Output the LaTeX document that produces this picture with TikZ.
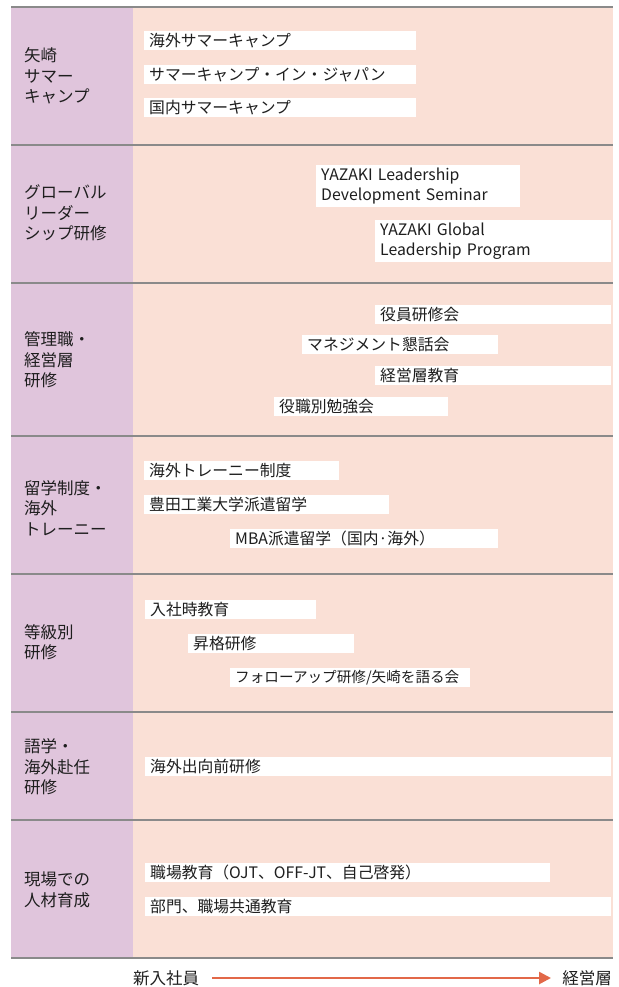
\documentclass[tikz,border=0pt]{standalone}
\usepackage{fontspec}
\setmainfont{Noto Sans CJK JP}
\usetikzlibrary{arrows.meta}
\definecolor{mauve}{RGB}{224,197,220}
\definecolor{salmon}{RGB}{250,224,214}
\definecolor{sepline}{RGB}{138,138,138}
\definecolor{arrowc}{RGB}{226,104,72}
\definecolor{ink}{RGB}{30,30,30}
\begin{document}
\begin{tikzpicture}[x=1pt,y=-1pt,
  item/.style={anchor=north west, fill=white, inner xsep=5pt, inner ysep=0pt,
    minimum height=19pt, align=left, text=ink,
    font=\fontsize{15.8}{20}\selectfont},
  tightitem/.style={item, font=\fontsize{14.6}{20}\selectfont},
  cat/.style={anchor=west, inner sep=0pt, align=left, text=ink,
    font=\fontsize{16.5}{20.5}\selectfont},
  sep/.style={draw=sepline, line width=1.6pt},
  lbl/.style={inner sep=0pt, text=ink, font=\fontsize{16.5}{18}\selectfont}]
\useasboundingbox (0,0) rectangle (618,987);
\fill[white] (0,0) rectangle (618,987);
% bands
\fill[mauve] (11,7) rectangle (133,958);
\fill[salmon] (133,7) rectangle (613,958);
\foreach \y in {7,145,283,436,574,712,820,958}{
  \draw[sep] (11,\y) -- (613,\y);
}
% category labels
\node[cat] (c1) at (24,76) {矢崎\\サマー\\キャンプ};
\node[cat] (c2) at (24,213) {グローバル\\リーダー\\シップ研修};
\node[cat] (c3) at (24,360) {管理職・\\経営層\\研修};
\node[cat] (c4) at (24,508) {留学制度・\\海外\\トレーニー};
\node[cat] (c5) at (24,642) {等級別\\研修};
\node[cat] (c6) at (24,767) {語学・\\海外赴任\\研修};
\node[cat] (c7) at (24,890) {現場での\\人材育成};
% row 1
\node[item, text width=262pt] (r1a) at (144,31) {海外サマーキャンプ};
\node[item, text width=262pt] (r1b) at (144,65) {サマーキャンプ・イン・ジャパン};
\node[item, text width=262pt] (r1c) at (144,98) {国内サマーキャンプ};
% row 2
\node[item, text width=194pt, minimum height=42pt] (r2a) at (316,165) {YAZAKI Leadership\\Development Seminar};
\node[item, text width=226pt, minimum height=42pt] (r2b) at (375,220) {YAZAKI Global\\Leadership Program};
% row 3
\node[item, text width=226pt] (r3a) at (375,305) {役員研修会};
\node[item, text width=186pt] (r3b) at (302,335) {マネジメント懇話会};
\node[item, text width=226pt] (r3c) at (375,366) {経営層教育};
\node[item, text width=164pt] (r3d) at (274,397) {役職別勉強会};
% row 4
\node[item, text width=185pt] (r4a) at (144,461) {海外トレーニー制度};
\node[item, text width=235pt] (r4b) at (144,495) {豊田工業大学派遣留学};
\node[item, text width=258pt] (r4c) at (230,529) {MBA派遣留学（国内·海外）};
% row 5
\node[item, text width=161pt] (r5a) at (145,600) {入社時教育};
\node[item, text width=156pt] (r5b) at (188,634) {昇格研修};
\node[tightitem, text width=230pt] (r5c) at (230,668) {\mbox{フォローアップ研修/矢崎を語る会}};
% row 6
\node[item, text width=456pt] (r6a) at (145,757) {海外出向前研修};
% row 7
\node[item, text width=395pt] (r7a) at (145,863) {職場教育（OJT、OFF-JT、自己啓発）};
\node[item, text width=456pt] (r7b) at (145,897) {部門、職場共通教育};
% bottom arrow
\node[lbl, anchor=west] (start) at (133,978) {新入社員};
\node[lbl, anchor=east] (end) at (612,978) {経営層};
\coordinate (a1) at (212,978);
\coordinate (a2) at (551,978);
\draw[arrowc, line width=2.6pt, -{Triangle[length=12pt,width=12pt]}] (a1) -- (a2);
\end{tikzpicture}
\end{document}
